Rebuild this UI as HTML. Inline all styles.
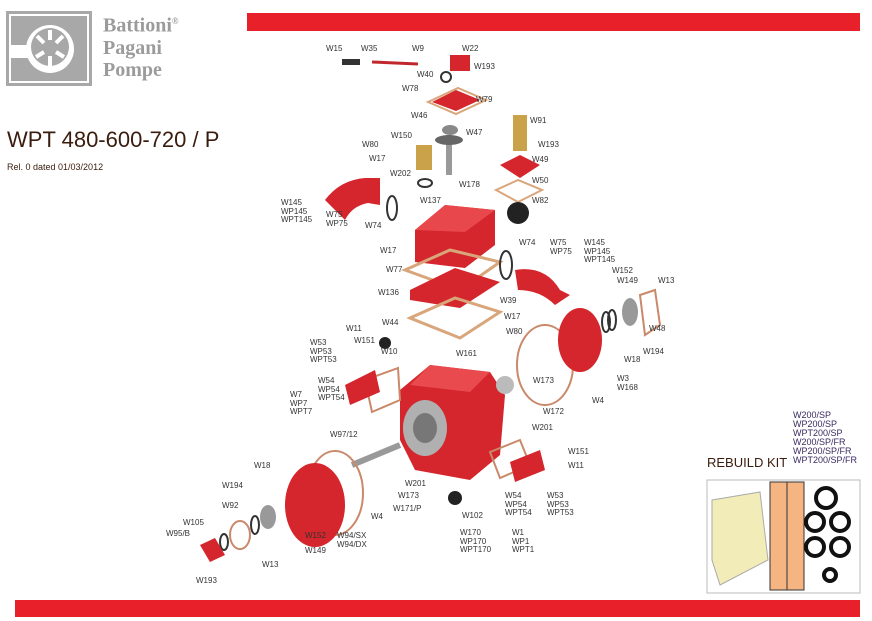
<!DOCTYPE html>
<html><head><meta charset="utf-8"><style>
body{margin:0;width:872px;height:621px;background:#fff;overflow:hidden;position:relative;font-family:"Liberation Sans",sans-serif}
.l{position:absolute;font-size:8px;line-height:8.5px;color:#333;white-space:nowrap}
</style></head><body>
<svg width="872" height="621" style="position:absolute;left:0;top:0">
<!-- logo -->
<rect x="6" y="11" width="86" height="75" fill="#a8a8a8"/>
<rect x="9" y="14" width="80" height="69" fill="#fff"/>
<rect x="11" y="16" width="76" height="65" fill="#a8a8a8"/>
<rect x="11" y="45" width="20" height="13" fill="#fff"/>
<circle cx="50" cy="49" r="24" fill="#fff"/>
<circle cx="50" cy="47" r="19" fill="#a8a8a8"/>
<g stroke="#fff" stroke-width="4"><line x1="50" y1="30" x2="50" y2="40"/><line x1="63" y1="36" x2="56" y2="43"/><line x1="37" y1="36" x2="44" y2="43"/><line x1="36" y1="57" x2="44" y2="52"/><line x1="64" y1="57" x2="56" y2="52"/><line x1="50" y1="56" x2="50" y2="66"/></g>
<rect x="247" y="13" width="613" height="18" fill="#e8202a"/>
<rect x="15" y="600" width="845" height="17" fill="#e8202a"/>
<!-- top shaft parts -->
<rect x="342" y="59" width="18" height="6" fill="#333"/>
<line x1="372" y1="62" x2="418" y2="64" stroke="#c0282d" stroke-width="3"/>
<rect x="450" y="55" width="20" height="16" fill="#d4262c"/>
<circle cx="446" cy="77" r="5" fill="none" stroke="#333" stroke-width="2"/>
<polygon points="428,102 458,88 486,100 456,114" fill="none" stroke="#d9a57a" stroke-width="2"/>
<polygon points="432,102 456,90 480,100 456,111" fill="#d4262c"/>
<ellipse cx="450" cy="130" rx="8" ry="5" fill="#888"/>
<rect x="446" y="135" width="6" height="40" fill="#999"/>
<ellipse cx="449" cy="140" rx="14" ry="5" fill="#666"/>
<rect x="416" y="145" width="16" height="25" fill="#c9a24a"/>
<ellipse cx="425" cy="183" rx="7" ry="4" fill="none" stroke="#333" stroke-width="2"/>
<rect x="513" y="115" width="14" height="36" fill="#c9a24a"/>
<polygon points="500,165 520,155 540,165 520,178" fill="#d4262c"/>
<polygon points="496,190 518,180 542,190 518,202" fill="none" stroke="#d9a57a" stroke-width="2"/>
<circle cx="518" cy="213" r="11" fill="#222"/>
<!-- left elbow -->
<path d="M325,200 Q340,180 365,178 L380,178 L380,205 L368,203 Q352,206 345,220 Z" fill="#d4262c"/>
<ellipse cx="392" cy="208" rx="5" ry="12" fill="none" stroke="#333" stroke-width="2"/>
<!-- head block -->
<polygon points="415,230 445,205 495,210 495,245 465,268 415,262" fill="#d4262c"/>
<polygon points="445,205 495,210 465,232 415,230" fill="#e8474c"/>
<polygon points="405,270 450,250 500,262 460,290" fill="none" stroke="#d9a57a" stroke-width="3"/>
<polygon points="410,290 455,268 500,282 460,308 410,300" fill="#d4262c"/>
<polygon points="410,318 455,298 500,312 460,338" fill="none" stroke="#d9a57a" stroke-width="3"/>
<!-- right elbow -->
<ellipse cx="506" cy="265" rx="6" ry="14" fill="none" stroke="#333" stroke-width="2"/>
<path d="M515,270 Q545,265 560,290 L570,295 L555,305 Q540,290 518,290 Z" fill="#d4262c"/>
<!-- right cover -->
<ellipse cx="545" cy="365" rx="28" ry="40" fill="none" stroke="#c9896a" stroke-width="2"/>
<ellipse cx="580" cy="340" rx="22" ry="32" fill="#d4262c"/>
<ellipse cx="606" cy="322" rx="4" ry="10" fill="none" stroke="#333" stroke-width="2"/>
<ellipse cx="612" cy="320" rx="4" ry="10" fill="none" stroke="#333" stroke-width="2"/>
<ellipse cx="630" cy="312" rx="8" ry="14" fill="#999"/>
<polygon points="640,295 655,290 660,325 645,335" fill="none" stroke="#c9896a" stroke-width="2"/>
<!-- main body -->
<polygon points="400,390 430,365 490,372 505,395 500,455 470,480 415,470 400,440" fill="#d4262c"/>
<polygon points="430,365 490,372 470,392 410,385" fill="#e84a4e"/>
<ellipse cx="425" cy="428" rx="22" ry="28" fill="#b0b0b0"/>
<ellipse cx="425" cy="428" rx="12" ry="15" fill="#777"/>
<polygon points="365,380 398,368 400,400 372,412" fill="none" stroke="#c9896a" stroke-width="2"/>
<polygon points="345,385 375,370 380,392 350,405" fill="#d4262c"/>
<circle cx="385" cy="343" r="6" fill="#222"/>
<circle cx="505" cy="385" r="9" fill="#bbb"/>
<polygon points="490,452 520,440 530,465 500,478" fill="none" stroke="#c9896a" stroke-width="2"/>
<polygon points="510,462 540,450 545,470 515,482" fill="#d4262c"/>
<circle cx="455" cy="498" r="7" fill="#222"/>
<!-- shaft -->
<line x1="352" y1="465" x2="400" y2="445" stroke="#999" stroke-width="6"/>
<!-- front cover -->
<ellipse cx="335" cy="493" rx="28" ry="42" fill="none" stroke="#c9896a" stroke-width="2"/>
<ellipse cx="315" cy="505" rx="30" ry="42" fill="#d4262c"/>
<ellipse cx="268" cy="517" rx="8" ry="12" fill="#999"/>
<ellipse cx="255" cy="525" rx="4" ry="9" fill="none" stroke="#333" stroke-width="2"/>
<ellipse cx="240" cy="535" rx="10" ry="14" fill="none" stroke="#c9896a" stroke-width="2"/>
<ellipse cx="224" cy="542" rx="4" ry="8" fill="none" stroke="#333" stroke-width="2"/>
<polygon points="200,545 215,538 225,555 210,562" fill="#d4262c"/>
<!-- rebuild kit -->
<rect x="707" y="480" width="153" height="113" fill="#fff" stroke="#bbb"/>
<path d="M712,500 L760,492 L768,560 L720,585 L712,560Z" fill="#f2ecb8" stroke="#aaa"/>
<rect x="770" y="482" width="34" height="108" fill="#f5b583" stroke="#333"/>
<line x1="787" y1="482" x2="787" y2="590" stroke="#333"/>
<g fill="none" stroke="#111" stroke-width="4"><circle cx="826" cy="498" r="10"/><circle cx="815" cy="522" r="9"/><circle cx="840" cy="522" r="9"/><circle cx="815" cy="547" r="9"/><circle cx="840" cy="547" r="9"/><circle cx="830" cy="575" r="6"/></g>
</svg>
<div style="position:absolute;left:103px;top:10px;color:#9b9b9b;font-family:'Liberation Serif',serif;font-weight:bold;font-size:20px;line-height:22px">Battioni<sup style="font-size:9px">®</sup><br>Pagani<br>Pompe</div>
<div style="position:absolute;left:7px;top:127px;font-size:22px;color:#3a1c0e">WPT 480-600-720 / P</div>
<div style="position:absolute;left:7px;top:162px;font-size:9px;color:#3a1c0e">Rel. 0 dated 01/03/2012</div>
<div style="position:absolute;left:707px;top:455px;font-size:13px;color:#3a1c0e">REBUILD KIT</div>
<div class="l" style="left:793px;top:411px;font-size:9px;line-height:9px;color:#3a2a60">W200/SP<br>WP200/SP<br>WPT200/SP<br>W200/SP/FR<br>WP200/SP/FR<br>WPT200/SP/FR</div>
<div class="l" style="left:326px;top:45px">W15</div>
<div class="l" style="left:361px;top:45px">W35</div>
<div class="l" style="left:412px;top:45px">W9</div>
<div class="l" style="left:462px;top:45px">W22</div>
<div class="l" style="left:417px;top:71px">W40</div>
<div class="l" style="left:474px;top:63px">W193</div>
<div class="l" style="left:402px;top:85px">W78</div>
<div class="l" style="left:476px;top:96px">W79</div>
<div class="l" style="left:411px;top:112px">W46</div>
<div class="l" style="left:466px;top:129px">W47</div>
<div class="l" style="left:530px;top:117px">W91</div>
<div class="l" style="left:391px;top:132px">W150</div>
<div class="l" style="left:538px;top:141px">W193</div>
<div class="l" style="left:532px;top:156px">W49</div>
<div class="l" style="left:362px;top:141px">W80</div>
<div class="l" style="left:369px;top:155px">W17</div>
<div class="l" style="left:390px;top:170px">W202</div>
<div class="l" style="left:459px;top:181px">W178</div>
<div class="l" style="left:532px;top:177px">W50</div>
<div class="l" style="left:281px;top:199px">W145<br>WP145<br>WPT145</div>
<div class="l" style="left:326px;top:211px">W75<br>WP75</div>
<div class="l" style="left:420px;top:197px">W137</div>
<div class="l" style="left:532px;top:197px">W82</div>
<div class="l" style="left:365px;top:222px">W74</div>
<div class="l" style="left:380px;top:247px">W17</div>
<div class="l" style="left:519px;top:239px">W74</div>
<div class="l" style="left:550px;top:239px">W75<br>WP75</div>
<div class="l" style="left:584px;top:239px">W145<br>WP145<br>WPT145</div>
<div class="l" style="left:386px;top:266px">W77</div>
<div class="l" style="left:612px;top:267px">W152</div>
<div class="l" style="left:617px;top:277px">W149</div>
<div class="l" style="left:658px;top:277px">W13</div>
<div class="l" style="left:378px;top:289px">W136</div>
<div class="l" style="left:500px;top:297px">W39</div>
<div class="l" style="left:649px;top:325px">W48</div>
<div class="l" style="left:504px;top:313px">W17</div>
<div class="l" style="left:506px;top:328px">W80</div>
<div class="l" style="left:382px;top:319px">W44</div>
<div class="l" style="left:346px;top:325px">W11</div>
<div class="l" style="left:354px;top:337px">W151</div>
<div class="l" style="left:310px;top:339px">W53<br>WP53<br>WPT53</div>
<div class="l" style="left:381px;top:348px">W10</div>
<div class="l" style="left:456px;top:350px">W161</div>
<div class="l" style="left:643px;top:348px">W194</div>
<div class="l" style="left:624px;top:356px">W18</div>
<div class="l" style="left:617px;top:375px">W3<br>W168</div>
<div class="l" style="left:318px;top:377px">W54<br>WP54<br>WPT54</div>
<div class="l" style="left:290px;top:391px">W7<br>WP7<br>WPT7</div>
<div class="l" style="left:533px;top:377px">W173</div>
<div class="l" style="left:592px;top:397px">W4</div>
<div class="l" style="left:543px;top:408px">W172</div>
<div class="l" style="left:532px;top:424px">W201</div>
<div class="l" style="left:330px;top:431px">W97/12</div>
<div class="l" style="left:568px;top:448px">W151</div>
<div class="l" style="left:568px;top:462px">W11</div>
<div class="l" style="left:254px;top:462px">W18</div>
<div class="l" style="left:222px;top:482px">W194</div>
<div class="l" style="left:405px;top:480px">W201</div>
<div class="l" style="left:398px;top:492px">W173</div>
<div class="l" style="left:505px;top:492px">W54<br>WP54<br>WPT54</div>
<div class="l" style="left:547px;top:492px">W53<br>WP53<br>WPT53</div>
<div class="l" style="left:222px;top:502px">W92</div>
<div class="l" style="left:393px;top:505px">W171/P</div>
<div class="l" style="left:371px;top:513px">W4</div>
<div class="l" style="left:183px;top:519px">W105</div>
<div class="l" style="left:166px;top:530px">W95/B</div>
<div class="l" style="left:305px;top:532px">W152</div>
<div class="l" style="left:337px;top:532px">W94/SX<br>W94/DX</div>
<div class="l" style="left:305px;top:547px">W149</div>
<div class="l" style="left:262px;top:561px">W13</div>
<div class="l" style="left:462px;top:512px">W102</div>
<div class="l" style="left:460px;top:529px">W170<br>WP170<br>WPT170</div>
<div class="l" style="left:512px;top:529px">W1<br>WP1<br>WPT1</div>
<div class="l" style="left:196px;top:577px">W193</div>
</body></html>
